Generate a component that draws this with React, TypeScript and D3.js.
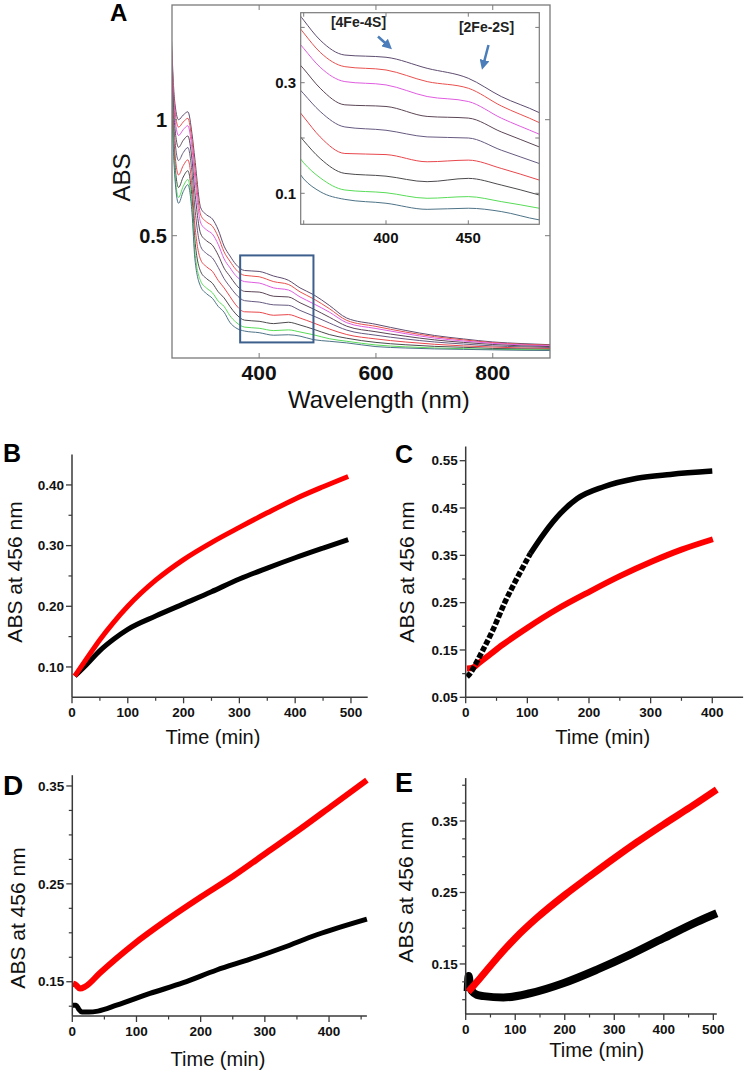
import React from 'react';
import * as d3 from 'd3';

const FONT = '"Liberation Sans", Arial, Helvetica, sans-serif';

// ---------- Panel A : UV-vis spectra ----------
const WAVELENGTHS = [250, 255, 262, 270, 278, 285, 290, 300, 310, 320, 330, 340, 350, 360, 375, 400, 425, 450, 470, 493, 520, 550, 600, 650, 700, 750, 800, 850, 900];
const SPEC_1 = [1.34, 1.09, 1.0, 1.02, 1.034, 0.94, 0.83, 0.62, 0.59, 0.572, 0.525, 0.455, 0.413, 0.377, 0.35, 0.346, 0.326, 0.308, 0.275, 0.246, 0.2, 0.145, 0.118, 0.092, 0.07, 0.055, 0.042, 0.035, 0.03];
const SPEC_2 = [1.318, 1.062, 0.968, 0.99, 1.006, 0.909, 0.791, 0.589, 0.559, 0.541, 0.495, 0.43, 0.39, 0.355, 0.329, 0.323, 0.302, 0.29, 0.258, 0.228, 0.186, 0.135, 0.109, 0.085, 0.065, 0.051, 0.039, 0.032, 0.028];
const SPEC_3 = [1.294, 1.031, 0.932, 0.957, 0.974, 0.875, 0.748, 0.555, 0.525, 0.507, 0.462, 0.4, 0.362, 0.328, 0.302, 0.296, 0.275, 0.266, 0.236, 0.207, 0.171, 0.125, 0.1, 0.078, 0.059, 0.046, 0.036, 0.029, 0.025];
const SPEC_4 = [1.261, 0.988, 0.881, 0.911, 0.93, 0.828, 0.688, 0.508, 0.478, 0.459, 0.416, 0.36, 0.325, 0.29, 0.26, 0.257, 0.239, 0.236, 0.211, 0.184, 0.149, 0.11, 0.086, 0.067, 0.051, 0.04, 0.031, 0.025, 0.022];
const SPEC_5 = [1.222, 0.938, 0.824, 0.858, 0.88, 0.773, 0.619, 0.453, 0.423, 0.404, 0.363, 0.315, 0.28, 0.248, 0.22, 0.214, 0.202, 0.2, 0.178, 0.154, 0.124, 0.093, 0.071, 0.055, 0.042, 0.033, 0.025, 0.021, 0.018];
const SPEC_6 = [1.182, 0.885, 0.762, 0.802, 0.827, 0.716, 0.546, 0.396, 0.366, 0.346, 0.307, 0.275, 0.238, 0.202, 0.172, 0.17, 0.157, 0.16, 0.145, 0.124, 0.098, 0.074, 0.055, 0.042, 0.032, 0.025, 0.02, 0.016, 0.014];
const SPEC_7 = [1.146, 0.839, 0.708, 0.753, 0.78, 0.665, 0.482, 0.345, 0.315, 0.295, 0.258, 0.232, 0.195, 0.163, 0.136, 0.131, 0.121, 0.127, 0.115, 0.097, 0.074, 0.058, 0.04, 0.03, 0.023, 0.019, 0.014, 0.012, 0.01];
const SPEC_8 = [1.117, 0.802, 0.665, 0.713, 0.742, 0.624, 0.43, 0.304, 0.274, 0.254, 0.218, 0.195, 0.155, 0.128, 0.106, 0.101, 0.091, 0.094, 0.085, 0.073, 0.056, 0.045, 0.029, 0.021, 0.016, 0.013, 0.01, 0.009, 0.007];
const SPEC_9 = [1.1, 0.78, 0.64, 0.69, 0.72, 0.6, 0.4, 0.28, 0.25, 0.23, 0.195, 0.17, 0.126, 0.103, 0.089, 0.082, 0.071, 0.073, 0.067, 0.052, 0.045, 0.038, 0.022, 0.016, 0.012, 0.01, 0.008, 0.006, 0.005];
const SPECTRA = [SPEC_1, SPEC_2, SPEC_3, SPEC_4, SPEC_5, SPEC_6, SPEC_7, SPEC_8, SPEC_9];
const SPEC_COLORS = ['#5e4d70', '#e8514f', '#e05ce0', '#5c4656', '#675a80', '#e8474c', '#4d4a4d', '#58dc58', '#4e7387'];
const A_X_TICKS = [400, 600, 800];
const A_Y_TICKS = [0.5, 1];
const BOX_NM = [367.5, 493];
const BOX_ABS = [0.04, 0.415];
const INSET_X_TICKS = [400, 450];
const INSET_X_ALL_TICKS = [350, 400, 450];
const INSET_Y_LABELS = [0.1, 0.3];
const INSET_Y_ALL_TICKS = [0.1, 0.2, 0.3, 0.4];

// ---------- Panels B-E : ABS at 456 nm vs time ----------
const B_RED_T = [5, 25, 50, 75, 100, 150, 200, 250, 300, 350, 400, 450, 495];
const B_RED = [0.085, 0.112, 0.145, 0.174, 0.2, 0.243, 0.277, 0.305, 0.33, 0.354, 0.377, 0.397, 0.414];
const B_BLACK_T = [5, 25, 50, 75, 100, 150, 200, 250, 300, 350, 400, 450, 495];
const B_BLACK = [0.085, 0.103, 0.127, 0.146, 0.162, 0.184, 0.204, 0.224, 0.245, 0.263, 0.28, 0.296, 0.31];
const B_X_TICKS = [0, 100, 200, 300, 400, 500];
const B_X_MINOR = [50, 150, 250, 350, 450];
const B_Y_TICKS = [0.1, 0.2, 0.3, 0.4];
const B_Y_MINOR = [0.15, 0.25, 0.35];

const C_BLACK_T = [2, 8, 18, 28, 44, 64, 83, 105, 127, 154, 181, 224, 278, 332, 400];
const C_BLACK = [0.093, 0.102, 0.125, 0.15, 0.192, 0.252, 0.301, 0.354, 0.396, 0.439, 0.47, 0.495, 0.513, 0.521, 0.528];
const C_RED_T = [2, 10, 23, 61, 99, 148, 202, 250, 304, 350, 401];
const C_RED = [0.111, 0.112, 0.124, 0.162, 0.196, 0.236, 0.274, 0.306, 0.338, 0.362, 0.384];
const C_X_TICKS = [0, 100, 200, 300, 400];
const C_X_MINOR = [50, 150, 250, 350];
const C_Y_TICKS = [0.05, 0.15, 0.25, 0.35, 0.45, 0.55];
const C_Y_MINOR = [0.1, 0.2, 0.3, 0.4, 0.5];

const D_RED_T = [1, 5, 12, 20, 43, 95, 147, 199, 251, 303, 355, 407, 459];
const D_RED = [0.148, 0.147, 0.143, 0.145, 0.159, 0.188, 0.213, 0.236, 0.258, 0.282, 0.306, 0.331, 0.356];
const D_BLACK_T = [1, 6, 10, 15, 26, 40, 69, 121, 173, 225, 277, 329, 381, 459];
const D_BLACK = [0.126, 0.126, 0.122, 0.119, 0.119, 0.12, 0.126, 0.138, 0.149, 0.162, 0.173, 0.185, 0.198, 0.214];
const D_X_TICKS = [0, 100, 200, 300, 400];
const D_X_MINOR = [50, 150, 250, 350, 450];
const D_Y_TICKS = [0.15, 0.25, 0.35];
const D_Y_MINOR = [0.125, 0.175, 0.2, 0.225, 0.275, 0.3, 0.325];

const E_RED_T = [5, 29, 63, 100, 143, 201, 251, 298, 345, 399, 453, 507];
const E_RED = [0.111, 0.13, 0.158, 0.186, 0.214, 0.247, 0.273, 0.297, 0.32, 0.345, 0.369, 0.394];
const E_BLACK_T = [4, 6, 9, 14, 22, 36, 76, 130, 197, 265, 332, 399, 467, 507];
const E_BLACK = [0.112, 0.133, 0.118, 0.111, 0.107, 0.105, 0.103, 0.109, 0.123, 0.142, 0.163, 0.186, 0.209, 0.221];
const E_X_TICKS = [0, 100, 200, 300, 400, 500];
const E_X_MINOR = [50, 150, 250, 350, 450];
const E_Y_TICKS = [0.15, 0.25, 0.35];
const E_Y_MINOR = [0.1, 0.125, 0.175, 0.2, 0.225, 0.275, 0.3, 0.325, 0.375, 0.4];

type Series = { t: number[]; v: number[]; color: string; width: number; dash?: string; dashUntil?: number };
type PanelCfg = {
  letter: string;
  xDomain: [number, number]; xRange: [number, number];
  yDomain: [number, number]; yRange: [number, number];
  xTicks: number[]; xMinor: number[]; yTicks: number[]; yMinor: number[];
  series: Series[];
  letterPos: [number, number, number];
  yLabel: [number, number];
  xLabel: [number, number];
  tickSize: number;
};

const PANELS: PanelCfg[] = [
  {
    letter: 'B', xDomain: [0, 530], xRange: [72, 367.7], yDomain: [0.05, 0.45], yRange: [697.3, 454.6],
    xTicks: B_X_TICKS, xMinor: B_X_MINOR, yTicks: B_Y_TICKS, yMinor: B_Y_MINOR,
    series: [
      { t: B_BLACK_T, v: B_BLACK, color: '#000', width: 5 },
      { t: B_RED_T, v: B_RED, color: '#f00', width: 5 },
    ],
    letterPos: [3, 462, 25], yLabel: [22, 572], xLabel: [213, 744], tickSize: 13.5,
  },
  {
    letter: 'C', xDomain: [0, 450], xRange: [465.7, 743.1], yDomain: [0.05, 0.58], yRange: [697.3, 446.5],
    xTicks: C_X_TICKS, xMinor: C_X_MINOR, yTicks: C_Y_TICKS, yMinor: C_Y_MINOR,
    series: [
      { t: C_RED_T, v: C_RED, color: '#f00', width: 6 },
      { t: C_BLACK_T, v: C_BLACK, color: '#000', width: 5.5, dash: '5.5 2', dashUntil: 110 },
    ],
    letterPos: [395, 463, 25], yLabel: [414, 572], xLabel: [602.7, 744], tickSize: 13.5,
  },
  {
    letter: 'D', xDomain: [0, 459], xRange: [72.3, 366.9], yDomain: [0.115, 0.361], yRange: [1016, 775.2],
    xTicks: D_X_TICKS, xMinor: D_X_MINOR, yTicks: D_Y_TICKS, yMinor: D_Y_MINOR,
    series: [
      { t: D_BLACK_T, v: D_BLACK, color: '#000', width: 5 },
      { t: D_RED_T, v: D_RED, color: '#f00', width: 6 },
    ],
    letterPos: [3, 795, 28], yLabel: [25, 918], xLabel: [218, 1066], tickSize: 13.5,
  },
  {
    letter: 'E', xDomain: [0, 507], xRange: [465.7, 716.8], yDomain: [0.08, 0.41], yRange: [1014, 778.1],
    xTicks: E_X_TICKS, xMinor: E_X_MINOR, yTicks: E_Y_TICKS, yMinor: E_Y_MINOR,
    series: [
      { t: E_BLACK_T, v: E_BLACK, color: '#000', width: 8 },
      { t: E_RED_T, v: E_RED, color: '#f00', width: 7 },
    ],
    letterPos: [395, 792, 27], yLabel: [413, 892], xLabel: [596.7, 1057], tickSize: 13.5,
  },
];

function KineticPanel({ cfg }: { cfg: PanelCfg }) {
  const x = d3.scaleLinear().domain(cfg.xDomain).range(cfg.xRange);
  const y = d3.scaleLinear().domain(cfg.yDomain).range(cfg.yRange);
  const x0 = cfg.xRange[0];
  const y0 = cfg.yRange[0];
  const axisColor = '#3a3a3a';
  const fmt = d3.format('.2f');
  const line = d3.line<[number, number]>().x(d => x(d[0])).y(d => y(d[1])).curve(d3.curveMonotoneX);
  return (
    <g>
      {cfg.series.map((s, i) => {
        const pts: [number, number][] = s.t.map((t, k) => [t, s.v[k]]);
        if (s.dash && s.dashUntil !== undefined) {
          const a = pts.filter(p => p[0] <= s.dashUntil!);
          const b = pts.filter(p => p[0] >= a[a.length - 1][0]);
          return (
            <g key={i}>
              <path d={line(a) || ''} fill="none" stroke={s.color} strokeWidth={s.width} strokeDasharray={s.dash} />
              <path d={line(b) || ''} fill="none" stroke={s.color} strokeWidth={s.width} />
            </g>
          );
        }
        return <path key={i} d={line(pts) || ''} fill="none" stroke={s.color} strokeWidth={s.width} strokeLinejoin="round" />;
      })}
      <line x1={x0} x2={x0} y1={y0} y2={cfg.yRange[1]} stroke={axisColor} strokeWidth={1.5} />
      <line x1={x0} x2={cfg.xRange[1]} y1={y0} y2={y0} stroke={axisColor} strokeWidth={1.5} />
      {cfg.yTicks.map(v => (
        <g key={'yt' + v}>
          <line x1={x0 - 6} x2={x0} y1={y(v)} y2={y(v)} stroke={axisColor} strokeWidth={1.3} />
          <text x={x0 - 8} y={y(v)} dy="0.35em" textAnchor="end" fontFamily={FONT} fontWeight="bold" fontSize={cfg.tickSize} fill="#111">{fmt(v)}</text>
        </g>
      ))}
      {cfg.yMinor.map(v => (
        <line key={'ym' + v} x1={x0 - 3.5} x2={x0} y1={y(v)} y2={y(v)} stroke={axisColor} strokeWidth={1.2} />
      ))}
      {cfg.xTicks.map(v => (
        <g key={'xt' + v}>
          <line x1={x(v)} x2={x(v)} y1={y0} y2={y0 + 6} stroke={axisColor} strokeWidth={1.3} />
          <text x={x(v)} y={y0 + 20} textAnchor="middle" fontFamily={FONT} fontWeight="bold" fontSize={cfg.tickSize} fill="#111">{v}</text>
        </g>
      ))}
      {cfg.xMinor.map(v => (
        <line key={'xm' + v} x1={x(v)} x2={x(v)} y1={y0} y2={y0 + 3.5} stroke={axisColor} strokeWidth={1.2} />
      ))}
      <text x={cfg.letterPos[0]} y={cfg.letterPos[1]} fontFamily={FONT} fontWeight="bold" fontSize={cfg.letterPos[2]} fill="#000">{cfg.letter}</text>
      <text transform={`translate(${cfg.yLabel[0]},${cfg.yLabel[1]}) rotate(-90)`} textAnchor="middle" fontFamily={FONT} fontSize={21} fill="#111">ABS at 456 nm</text>
      <text x={cfg.xLabel[0]} y={cfg.xLabel[1]} textAnchor="middle" fontFamily={FONT} fontSize={20} fill="#111">Time (min)</text>
    </g>
  );
}

function PanelA() {
  const frame = { l: 172, r: 550, t: 5, b: 358 };
  const xA = d3.scaleLinear().domain([250.8, 898]).range([frame.l, frame.r]);
  const yA = d3.scaleLinear().domain([0, 1]).range([351.7, 119.7]);
  const inset = { l: 300.7, r: 539.3, t: 12.7, b: 224.3 };
  const xI = d3.scaleLinear().domain([400, 450]).range([386, 468.3]);
  const yI = d3.scaleLinear().domain([0.1, 0.3]).range([193.3, 82.7]);
  const lineA = d3.line<number>().x((_, i) => xA(WAVELENGTHS[i])).y(d => yA(d)).curve(d3.curveMonotoneX);
  const lineI = d3.line<number>().x((_, i) => xI(WAVELENGTHS[i])).y(d => yI(d)).curve(d3.curveMonotoneX);
  const frameColor = '#7a7a7a';
  const arrowColor = '#4a7dba';
  return (
    <g>
      <defs>
        <clipPath id="clipA"><rect x={frame.l} y={frame.t} width={frame.r - frame.l} height={frame.b - frame.t} /></clipPath>
        <clipPath id="clipI"><rect x={inset.l} y={inset.t} width={inset.r - inset.l} height={inset.b - inset.t} /></clipPath>
        <marker id="arrowHead" viewBox="0 0 10 10" refX="6" refY="5" markerWidth="4" markerHeight="4" orient="auto">
          <path d="M0,0 L10,5 L0,10 z" fill={arrowColor} />
        </marker>
      </defs>
      <g clipPath="url(#clipA)">
        {SPECTRA.map((s, i) => (
          <path key={i} d={lineA(s) || ''} fill="none" stroke={SPEC_COLORS[i]} strokeWidth={1} />
        ))}
      </g>
      <rect x={frame.l} y={frame.t} width={frame.r - frame.l} height={frame.b - frame.t} fill="none" stroke={frameColor} strokeWidth={1.3} />
      {A_X_TICKS.map(v => (
        <g key={'ax' + v}>
          <line x1={xA(v)} x2={xA(v)} y1={frame.b} y2={frame.b - 5} stroke={frameColor} />
          <line x1={xA(v)} x2={xA(v)} y1={frame.t} y2={frame.t + 5} stroke={frameColor} />
          <text x={xA(v)} y={380} textAnchor="middle" fontFamily={FONT} fontWeight="bold" fontSize={21} fill="#111">{v}</text>
        </g>
      ))}
      {A_Y_TICKS.map(v => (
        <g key={'ay' + v}>
          <line x1={frame.l} x2={frame.l + 5} y1={yA(v)} y2={yA(v)} stroke={frameColor} />
          <line x1={frame.r} x2={frame.r - 5} y1={yA(v)} y2={yA(v)} stroke={frameColor} />
          <text x={167} y={yA(v)} dy="0.36em" textAnchor="end" fontFamily={FONT} fontWeight="bold" fontSize={20} fill="#111">{v}</text>
        </g>
      ))}
      <rect x={xA(BOX_NM[0])} y={yA(BOX_ABS[1])} width={xA(BOX_NM[1]) - xA(BOX_NM[0])} height={yA(BOX_ABS[0]) - yA(BOX_ABS[1])} fill="none" stroke="#3d5f8c" strokeWidth={2} />
      <text x={110} y={21} fontFamily={FONT} fontWeight="bold" fontSize={24} fill="#000">A</text>
      <text transform="translate(130,177.5) rotate(-90)" textAnchor="middle" fontFamily={FONT} fontSize={24} fill="#111">ABS</text>
      <text x={378.8} y={408} textAnchor="middle" fontFamily={FONT} fontSize={24} fill="#111">Wavelength (nm)</text>

      {/* inset */}
      <rect x={inset.l} y={inset.t} width={inset.r - inset.l} height={inset.b - inset.t} fill="#fff" />
      <g clipPath="url(#clipI)">
        {SPECTRA.map((s, i) => (
          <path key={i} d={lineI(s) || ''} fill="none" stroke={SPEC_COLORS[i]} strokeWidth={1} />
        ))}
      </g>
      <rect x={inset.l} y={inset.t} width={inset.r - inset.l} height={inset.b - inset.t} fill="none" stroke={frameColor} strokeWidth={1.2} />
      {INSET_X_ALL_TICKS.map(v => (
        <g key={'ix' + v}>
          <line x1={xI(v)} x2={xI(v)} y1={inset.b} y2={inset.b - 4} stroke={frameColor} />
          <line x1={xI(v)} x2={xI(v)} y1={inset.t} y2={inset.t + 4} stroke={frameColor} />
        </g>
      ))}
      {INSET_Y_ALL_TICKS.map(v => (
        <g key={'iy' + v}>
          <line x1={inset.l} x2={inset.l + 4} y1={yI(v)} y2={yI(v)} stroke={frameColor} />
          <line x1={inset.r} x2={inset.r - 4} y1={yI(v)} y2={yI(v)} stroke={frameColor} />
        </g>
      ))}
      {INSET_X_TICKS.map(v => (
        <text key={'ixl' + v} x={xI(v)} y={243} textAnchor="middle" fontFamily={FONT} fontWeight="bold" fontSize={15} fill="#111">{v}</text>
      ))}
      {INSET_Y_LABELS.map(v => (
        <text key={'iyl' + v} x={296} y={yI(v)} dy="0.36em" textAnchor="end" fontFamily={FONT} fontWeight="bold" fontSize={15} fill="#111">{v}</text>
      ))}
      <text x={358.5} y={27} textAnchor="middle" fontFamily={FONT} fontWeight="bold" fontSize={14} fill="#222">[4Fe-4S]</text>
      <text x={486.5} y={32} textAnchor="middle" fontFamily={FONT} fontWeight="bold" fontSize={14} fill="#222">[2Fe-2S]</text>
      <line x1={378} y1={36.5} x2={389} y2={46.5} stroke={arrowColor} strokeWidth={2.5} markerEnd="url(#arrowHead)" />
      <line x1={488.5} y1={45} x2={483} y2={66} stroke={arrowColor} strokeWidth={2.5} markerEnd="url(#arrowHead)" />
    </g>
  );
}

export default function App() {
  return (
    <svg width={745} height={1072} viewBox="0 0 745 1072" style={{ position: 'absolute', left: 0, top: 0, background: '#fff' }}>
      <rect x={0} y={0} width={745} height={1072} fill="#fff" />
      <PanelA />
      {PANELS.map(p => <KineticPanel key={p.letter} cfg={p} />)}
    </svg>
  );
}
